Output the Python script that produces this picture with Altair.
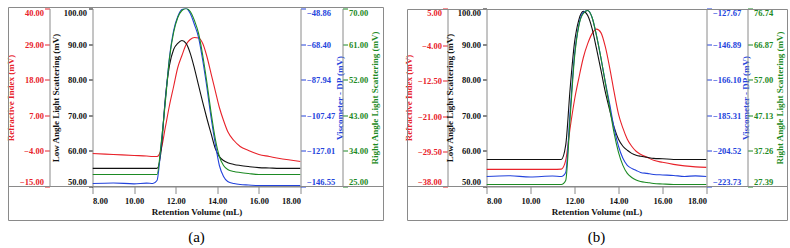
import altair as alt
import pandas as pd

RED = "#e8222a"
BLACK = "#111111"
BLUE = "#2343dc"
GREEN = "#1d8a24"
GRAY = "#8a8a8a"
FONT = "Liberation Serif"

x_ticks = [8, 10, 12, 14, 16, 18]

# ---------------- panel (a) ----------------
a_x = [8.0, 9.0, 10.0, 10.6, 10.9, 11.1, 11.3, 11.5, 11.7, 11.9, 12.1, 12.3, 12.5, 12.7, 12.9,
       13.1, 13.3, 13.5, 13.7, 13.9, 14.1, 14.3, 14.5, 14.8, 15.1, 15.5, 16.0, 16.5, 17.0, 17.5, 18.0]
a_ri = [-4.81, -5.11, -5.42, -5.58, -5.73, -5.73, -3.57, 3.23, 10.03, 15.90, 21.77, 25.48, 28.88, 30.42, 31.04,
        30.88, 29.18, 25.17, 19.91, 14.66, 9.41, 5.39, 1.99, -0.79, -2.64, -3.88, -5.11, -5.73, -6.35, -6.81, -7.28]
a_lals = [55.1, 55.1, 55.1, 55.1, 55.1, 55.1, 60.1, 74.7, 84.0, 88.5, 90.2, 91.0, 90.2, 87.4, 83.2,
          78.4, 73.6, 69.1, 64.9, 60.7, 58.4, 57.3, 56.7, 56.2, 55.9, 55.6, 55.3, 55.2, 55.1, 55.1, 55.1]
a_dp = [-144.9, -144.6, -145.1, -144.7, -144.9, -143.25, -124.05, -99.35, -75.75, -60.93, -53.25, -49.41, -48.86, -51.60, -57.64,
        -64.78, -77.40, -92.22, -108.68, -122.95, -135.02, -141.06, -143.80, -144.90, -145.45, -145.72, -146.0, -146.0, -146.0, -146.0, -146.0]
a_rals = [28.04, 28.04, 28.04, 28.04, 28.04, 28.04, 35.87, 46.24, 57.36, 63.93, 67.72, 69.49, 70.0, 69.24, 66.97,
          63.68, 58.12, 51.29, 43.71, 37.14, 32.59, 30.31, 29.30, 28.79, 28.54, 28.29, 28.04, 28.04, 28.04, 28.04, 28.04]
a_ri_ticks = [-15, -4, 7, 18, 29, 40]
a_lals_ticks = [50, 60, 70, 80, 90, 100]
a_dp_ticks = [-146.55, -127.01, -107.47, -87.94, -68.40, -48.86]
a_rals_ticks = [25, 34, 43, 52, 61, 70]

# ---------------- panel (b) ----------------
b_x = [8.0, 9.0, 10.0, 11.0, 11.4, 11.6, 11.8, 12.0, 12.2, 12.4, 12.6, 12.8, 13.0, 13.2, 13.4,
       13.6, 13.8, 14.0, 14.2, 14.4, 14.6, 14.8, 15.0, 15.3, 15.6, 16.0, 16.5, 17.0, 17.5, 18.0]
b_ri = [-33.86, -33.86, -33.86, -33.86, -33.80, -31.68, -23.91, -17.10, -11.76, -6.90, -3.50, -1.07, 0.02, -0.83, -4.23,
        -9.33, -15.16, -20.50, -23.91, -26.58, -28.28, -29.49, -30.22, -30.95, -31.68, -32.16, -32.65, -33.01, -33.26, -33.38]
b_lals = [57.6, 57.6, 57.6, 57.6, 57.6, 61.6, 77.4, 90.4, 96.9, 99.2, 98.0, 94.35, 88.7, 82.77, 76.55,
          71.47, 66.66, 63.27, 61.30, 60.17, 59.3, 58.8, 58.5, 58.2, 57.9, 57.8, 57.6, 57.6, 57.6, 57.6]
b_dp = [-218.3, -217.9, -218.6, -218.1, -218.3, -216.13, -183.57, -152.63, -136.35, -129.84, -128.76, -132.55, -142.32, -154.26, -167.29,
        -179.23, -192.25, -202.02, -208.53, -212.33, -213.96, -215.04, -216.13, -216.67, -217.22, -217.49, -217.76, -218.3, -218.0, -218.3]
b_rals = [27.95, 27.95, 27.95, 27.95, 27.95, 29.07, 46.35, 63.08, 72.00, 75.35, 76.18, 74.23, 69.21, 63.08, 56.11,
          49.14, 42.17, 36.87, 33.25, 31.02, 29.90, 29.20, 28.79, 28.51, 28.23, 28.09, 27.95, 27.95, 27.95, 27.95]
b_ri_ticks = [-38, -29.5, -21, -12.5, -4, 5]
b_lals_ticks = [50, 60, 70, 80, 90, 100]
b_dp_ticks = [-223.73, -204.52, -185.31, -166.10, -146.89, -127.67]
b_rals_ticks = [27.39, 37.26, 47.13, 57.00, 66.87, 76.74]

one = pd.DataFrame({"k": [0]})

xaxis = alt.Axis(values=x_ticks, format=".2f", title="Retention Volume (mL)", tickSize=7,
                 labelPadding=3, titlePadding=2, labelFlush=True, grid=False,
                 domainColor=GRAY, tickColor=GRAY, labelColor=BLACK, titleColor=BLACK)


def yaxis(title, color, ticks, orient, offset, tick, lpad, tpad):
    kw = dict(title=title, orient=orient, offset=offset, values=ticks, format=".2f",
              labelColor=color, titleColor=color, tickColor=color, domainColor=GRAY,
              tickSize=tick, labelPadding=lpad, titlePadding=tpad, labelFlush=True, grid=False)
    if orient == "right":
        kw.update(titleAngle=270, titleBaseline="top")
    return alt.Axis(**kw)


def line(x, v, color, ticks, axis):
    df = pd.DataFrame({"x": x, "v": v})
    return alt.Chart(df).mark_line(color=color, strokeWidth=1.1, interpolate="monotone", clip=True).encode(
        x=alt.X("x:Q", scale=alt.Scale(domain=[8, 18], nice=False, zero=False), axis=xaxis),
        y=alt.Y("v:Q", scale=alt.Scale(domain=[ticks[0], ticks[-1]], nice=False, zero=False), axis=axis),
    )


def panel(W, H, fx1, fx2, fy1, fy2, x, ri, lals, dp, rals, t_ri, t_lals, t_dp, t_rals,
          ri_off, rals_off, caption):
    frame = alt.Chart(one).mark_rect(fillOpacity=0, stroke=GRAY, strokeWidth=1).encode(
        x=alt.value(fx1), x2=alt.value(fx2), y=alt.value(fy1), y2=alt.value(fy2))
    base = alt.Chart(one).mark_rule(color=GRAY, strokeWidth=1).encode(
        x=alt.value(fx1), x2=alt.value(fx2), y=alt.value(H))
    cap = alt.Chart(one).mark_text(text=caption, font=FONT, fontSize=15, color="#000").encode(
        x=alt.value(W / 2), y=alt.value(228))
    l_ri = line(x, ri, RED, t_ri, yaxis("Refractive Index (mV)", RED, t_ri, "left", ri_off, 5, 1, 4))
    l_lals = line(x, lals, BLACK, t_lals, yaxis("Low Angle Light Scattering (mV)", BLACK, t_lals, "left", 0, 4, 2, 3))
    l_rals = line(x, rals, GREEN, t_rals, yaxis("Right Angle Light Scattering (mV)", GREEN, t_rals, "right", rals_off, 5, 1, 3))
    l_dp = line(x, dp, BLUE, t_dp, yaxis("Viscometer - DP (mV)", BLUE, t_dp, "right", 0, 5, 1, 1))
    return alt.layer(frame, base, l_ri, l_lals, l_dp, l_rals, cap).resolve_scale(y="independent").properties(
        width=W, height=H)


pa = panel(208, 178, -84, 291, -1, 212, a_x, a_ri, a_lals, a_dp, a_rals,
           a_ri_ticks, a_lals_ticks, a_dp_ticks, a_rals_ticks, 43, 42, "(a)")
pb = panel(220, 178, -79, 301, 1, 212, b_x, b_ri, b_lals, b_dp, b_rals,
           b_ri_ticks, b_lals_ticks, b_dp_ticks, b_rals_ticks, 39, 41, "(b)")

chart = alt.hconcat(pa, pb, spacing=20).properties(
    padding={"left": 6.5, "top": 6.5, "right": 0, "bottom": 0},
    background="white",
).configure_view(strokeWidth=0).configure_axis(
    labelFont=FONT, titleFont=FONT, labelFontSize=8.5, titleFontSize=9,
    labelFontWeight="bold", titleFontWeight="bold", domainWidth=1, tickWidth=1,
)

chart.save("out.html", embed_options={"renderer": "svg", "actions": False})
